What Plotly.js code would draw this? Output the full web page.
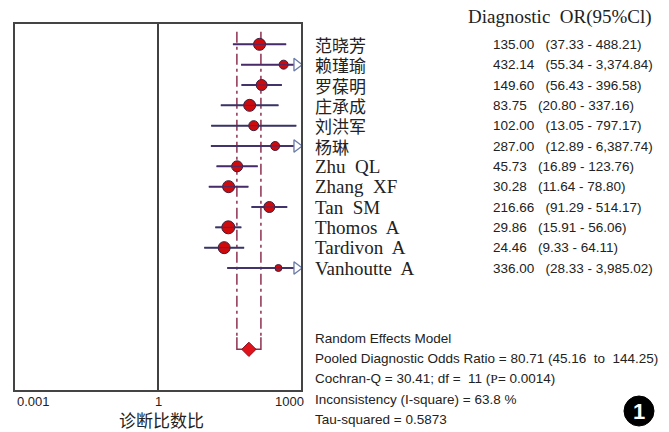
<!DOCTYPE html>
<html>
<head>
<meta charset="utf-8">
<script src="https://cdn.plot.ly/plotly-3.0.1.min.js"></script>
<style>html,body{margin:0;padding:0;background:#fff;}</style>
</head>
<body>
<div id="chart" style="width:669px;height:432px;"></div>
<script>
// ---- data ----
const studies = ['范晓芳','赖瑾瑜','罗葆明','庄承成','刘洪军','杨琳','Zhu  QL','Zhang  XF','Tan  SM','Thomos  A','Tardivon  A','Vanhoutte  A'];
const orVals = [135.00, 432.14, 149.60, 83.75, 102.00, 287.00, 45.73, 30.28, 216.66, 29.86, 24.46, 336.00];
const ciLow  = [37.33, 55.34, 56.43, 20.80, 13.05, 12.89, 16.89, 11.64, 91.29, 15.91, 9.33, 28.33];
const ciHigh = [488.21, 3374.84, 396.58, 337.16, 797.17, 6387.74, 123.76, 78.80, 514.17, 56.06, 64.11, 3985.02];
const weights = [12, 9, 11, 12, 10, 9, 11, 12, 11, 13, 12, 7];
const pooled = {or: 80.71, lo: 45.16, hi: 144.25};
const tickVals = [0.001, 1, 1000];
const tickText = ['0.001', '1', '1000'];
const headerText = 'Diagnostic  OR(95%Cl)';
const xTitle = '诊断比数比';
const statsLines = [
  'Random Effects Model',
  'Pooled Diagnostic Odds Ratio = 80.71 (45.16  to  144.25)',
  'Cochran-Q = 30.41; df =  11 (<span style="font-family:\'Liberation Serif\'">P</span>= 0.0014)',
  'Inconsistency (I-square) = 63.8 %',
  'Tau-squared = 0.5873'
];

// ---- layout helpers ----
const W = 669, H = 432;
const M = {l: 15, r: 368, t: 24, b: 42};
const PW = W - M.l - M.r, PH = H - M.t - M.b;
const px2paperX = px => (px - M.l) / PW;
const py2paperY = py => (H - M.b - py) / PH;
const XMIN = Math.log10(tickVals[0]), XMAX = Math.log10(tickVals[tickVals.length - 1]);
const YR = [17, -1];
const POOL_ROW = 15;

const narrow = "'Liberation Sans', Arial, sans-serif";
const serif = "'Liberation Serif', 'Noto Sans CJK SC', serif";
const cjk = "'Noto Sans CJK SC', sans-serif";
const rows = studies.map((_, i) => i);
const fmt = v => v.toLocaleString('en-US', {minimumFractionDigits: 2, maximumFractionDigits: 2});
const capX = Math.pow(10, XMAX);

const traces = [];
// vertical reference line at OR = 1
traces.push({x: [1, 1], y: [YR[1], YR[0]], mode: 'lines', line: {color: '#111', width: 1.6}, hoverinfo: 'skip', showlegend: false});

// pooled CI dash-dot lines
const dashEnd = POOL_ROW - 0.6;
[pooled.lo, pooled.hi].forEach(v => {
  traces.push({x: [v, v], y: [-0.62, dashEnd], mode: 'lines',
    line: {color: '#8e3050', width: 1.5, dash: '11px,4px,3px,4px'}, hoverinfo: 'skip', showlegend: false});
});
traces.push({x: [pooled.lo, pooled.lo, pooled.hi, pooled.hi], y: [dashEnd, POOL_ROW, POOL_ROW, dashEnd],
  mode: 'lines', line: {color: '#8e3050', width: 1.5}, hoverinfo: 'skip', showlegend: false});

// CI lines
const cx = [], cy = [];
rows.forEach(i => { cx.push(ciLow[i], Math.min(ciHigh[i], capX), null); cy.push(i, i, null); });
traces.push({x: cx, y: cy, mode: 'lines', line: {color: '#3a3d6a', width: 2}, hoverinfo: 'skip', showlegend: false});

// study point estimates
traces.push({x: orVals, y: rows, mode: 'markers', cliponaxis: false, opacity: 1,
  marker: {symbol: 'circle', size: weights, color: '#d00a0a', opacity: 1, line: {color: '#3a2040', width: 1}},
  hoverinfo: 'skip', showlegend: false});

// thin centre stroke through the markers (as in the original rendering)
traces.push({x: cx, y: cy, mode: 'lines', line: {color: '#4a2a6a', width: 1}, hoverinfo: 'skip', showlegend: false});

// arrows for truncated CIs
const ax = [], ay = [];
rows.forEach(i => { if (ciHigh[i] > capX) { ax.push(Math.pow(10, XMAX - 0.09)); ay.push(i); } });
traces.push({x: ax, y: ay, mode: 'markers', cliponaxis: false,
  marker: {symbol: 'triangle-right', size: 11, color: '#ffffff', line: {color: '#6a7aa8', width: 1.3}},
  hoverinfo: 'skip', showlegend: false});

// pooled diamond
traces.push({x: [pooled.or], y: [POOL_ROW], mode: 'markers', cliponaxis: false,
  marker: {symbol: 'diamond', size: 11, color: '#e0121a', line: {color: '#8a1020', width: 1}},
  hoverinfo: 'skip', showlegend: false});

// ---- annotations ----
const ann = [];
ann.push({xref: 'paper', yref: 'paper', x: px2paperX(466), y: py2paperY(17), xanchor: 'left', yanchor: 'middle',
  text: headerText, showarrow: false, font: {family: serif, size: 19, color: '#222'}});
rows.forEach(i => {
  const isCJK = /[\u4e00-\u9fff]/.test(studies[i]);
  ann.push({xref: 'paper', yref: 'y', x: px2paperX(313), y: i, xanchor: 'left', yanchor: 'middle',
    text: studies[i], showarrow: false,
    font: {family: isCJK ? cjk : serif, size: isCJK ? 17 : 19, color: '#222'}});
  ann.push({xref: 'paper', yref: 'y', x: px2paperX(491), y: i, xanchor: 'left', yanchor: 'middle',
    text: fmt(orVals[i]) + '   (' + fmt(ciLow[i]) + ' - ' + fmt(ciHigh[i]) + ')', showarrow: false,
    font: {family: narrow, size: 13.5, color: '#222'}});
});
statsLines.forEach((t, k) => {
  ann.push({xref: 'paper', yref: 'paper', x: px2paperX(313), y: py2paperY(338 + k * 20.4), xanchor: 'left', yanchor: 'middle',
    text: t, showarrow: false, font: {family: narrow, size: 13.5, color: '#222'}});
});
tickVals.forEach((v, k) => {
  const anchor = k === 0 ? 'left' : (k === tickVals.length - 1 ? 'right' : 'center');
  ann.push({xref: 'x', yref: 'paper', x: Math.log10(v), y: py2paperY(401), xanchor: anchor, yanchor: 'middle',
    xshift: k === tickVals.length - 1 ? 5 : 0,
    text: tickText[k], showarrow: false, font: {family: narrow, size: 13, color: '#222'}});
});
ann.push({xref: 'x', yref: 'paper', x: 0, y: py2paperY(419), xanchor: 'center', yanchor: 'middle', xshift: 3,
  text: xTitle, showarrow: false, font: {family: cjk, size: 17, color: '#222'}});
ann.push({xref: 'paper', yref: 'paper', x: px2paperX(639), y: py2paperY(411), xanchor: 'center', yanchor: 'middle',
  text: '<b>1</b>', showarrow: false, font: {family: "'Liberation Sans', sans-serif", size: 22, color: '#fff'}});

const layout = {
  width: W, height: H,
  margin: M,
  paper_bgcolor: '#fff', plot_bgcolor: '#fff',
  showlegend: false,
  xaxis: {type: 'log', range: [XMIN, XMAX], showgrid: false, zeroline: false, showticklabels: false,
    ticks: '', showline: true, mirror: true, linecolor: '#444', linewidth: 2, fixedrange: true},
  yaxis: {range: YR, showgrid: false, zeroline: false, showticklabels: false, ticks: '',
    showline: true, mirror: true, linecolor: '#444', linewidth: 2, fixedrange: true},
  shapes: [{type: 'circle', xref: 'paper', yref: 'paper',
    x0: px2paperX(624), x1: px2paperX(654), y0: py2paperY(426), y1: py2paperY(396),
    fillcolor: '#000', line: {color: '#000', width: 1}}],
  annotations: ann
};

Plotly.newPlot('chart', traces, layout, {staticPlot: true, displayModeBar: false});
</script>
</body>
</html>
